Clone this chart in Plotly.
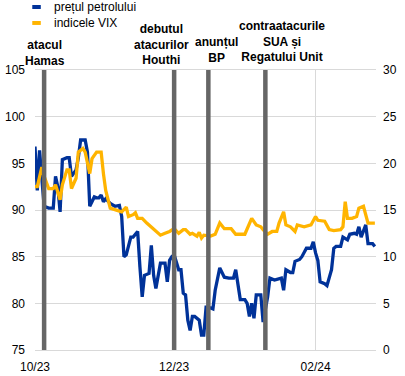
import plotly.graph_objects as go

# ---------------- data ----------------
oil_dates = [
    "2023-10-01", "2023-10-02", "2023-10-03", "2023-10-04", "2023-10-05", "2023-10-07",
    "2023-10-09", "2023-10-10", "2023-10-11", "2023-10-12", "2023-10-13", "2023-10-15",
    "2023-10-16", "2023-10-17", "2023-10-19", "2023-10-20", "2023-10-21", "2023-10-23",
    "2023-10-24", "2023-10-25", "2023-10-27", "2023-10-28", "2023-10-29", "2023-10-30",
    "2023-10-31", "2023-11-01", "2023-11-03", "2023-11-05", "2023-11-07", "2023-11-08",
    "2023-11-09", "2023-11-10", "2023-11-12", "2023-11-13", "2023-11-15", "2023-11-16",
    "2023-11-17", "2023-11-18", "2023-11-20", "2023-11-21", "2023-11-22", "2023-11-23",
    "2023-11-25", "2023-11-27", "2023-11-28", "2023-11-29", "2023-11-30", "2023-12-01",
    "2023-12-03", "2023-12-04", "2023-12-05", "2023-12-06", "2023-12-07", "2023-12-08",
    "2023-12-09", "2023-12-10", "2023-12-12", "2023-12-13", "2023-12-14", "2023-12-15",
    "2023-12-16", "2023-12-18", "2023-12-19", "2023-12-21", "2023-12-23", "2023-12-25",
    "2023-12-27", "2023-12-28", "2023-12-30", "2024-01-01", "2024-01-02", "2024-01-03",
    "2024-01-04", "2024-01-05", "2024-01-06", "2024-01-08", "2024-01-09", "2024-01-11",
    "2024-01-12", "2024-01-14", "2024-01-17", "2024-01-18", "2024-01-19", "2024-01-21",
    "2024-01-22", "2024-01-23", "2024-01-25", "2024-01-26", "2024-01-28", "2024-01-30",
    "2024-01-31", "2024-02-01", "2024-02-02", "2024-02-03", "2024-02-05", "2024-02-06",
    "2024-02-07", "2024-02-08", "2024-02-09", "2024-02-10", "2024-02-12", "2024-02-13",
    "2024-02-15", "2024-02-16", "2024-02-18", "2024-02-19", "2024-02-20", "2024-02-21",
    "2024-02-23", "2024-02-24", "2024-02-26", "2024-02-27",
]
oil_price = [
    96.8, 92.1, 96.4, 93.0, 90.4, 90.2,
    90.2, 93.6, 92.5, 89.8, 95.4, 95.6,
    95.6, 93.6, 94.3, 95.6, 97.5, 97.5,
    96.2, 90.4, 91.4, 91.3, 91.3, 91.6,
    90.9, 91.2, 90.7, 90.4, 90.5, 89.3,
    85.0, 85.2, 87.1, 87.1, 87.7, 83.9,
    80.7, 83.0, 83.2, 86.2, 83.0, 81.6,
    84.3, 84.3, 82.3, 84.6, 85.0, 85.2,
    83.6, 83.6, 81.1, 80.9, 78.2, 77.1,
    78.6, 78.6, 78.2, 76.6, 76.6, 79.6,
    79.6, 79.4, 81.4, 83.8, 82.8, 82.7,
    82.7, 83.6, 80.4, 80.4, 80.0, 78.6,
    80.0, 78.4, 80.9, 80.9, 78.0, 80.7,
    82.7, 82.5, 82.7, 81.4, 83.6, 83.3,
    83.3, 84.5, 84.7, 85.0, 85.9, 85.9,
    86.6, 85.4, 84.6, 82.3, 82.1, 81.9,
    82.8, 83.6, 85.9, 86.1, 86.1, 87.1,
    86.8, 87.4, 87.5, 87.4, 88.2, 87.1,
    88.4, 86.4, 86.4, 86.1,
]

vix_dates = [
    "2023-10-01", "2023-10-02", "2023-10-04", "2023-10-05", "2023-10-07", "2023-10-09",
    "2023-10-10", "2023-10-12", "2023-10-13", "2023-10-15", "2023-10-16", "2023-10-17",
    "2023-10-19", "2023-10-20", "2023-10-22", "2023-10-23", "2023-10-25", "2023-10-26",
    "2023-10-28", "2023-10-30", "2023-10-31", "2023-11-01", "2023-11-03", "2023-11-06",
    "2023-11-08", "2023-11-10", "2023-11-11", "2023-11-13", "2023-11-14", "2023-11-15",
    "2023-11-17", "2023-11-19", "2023-11-21", "2023-11-23", "2023-11-25", "2023-11-27",
    "2023-11-29", "2023-12-01", "2023-12-03", "2023-12-05", "2023-12-06", "2023-12-08",
    "2023-12-09", "2023-12-11", "2023-12-12", "2023-12-13", "2023-12-14", "2023-12-17",
    "2023-12-19", "2023-12-21", "2023-12-23", "2023-12-26", "2023-12-28", "2024-01-01",
    "2024-01-03", "2024-01-04", "2024-01-06", "2024-01-08", "2024-01-09", "2024-01-11",
    "2024-01-13", "2024-01-15", "2024-01-16", "2024-01-18", "2024-01-19", "2024-01-21",
    "2024-01-23", "2024-01-24", "2024-01-27", "2024-01-30", "2024-02-01", "2024-02-02",
    "2024-02-05", "2024-02-07", "2024-02-09", "2024-02-12", "2024-02-13", "2024-02-14",
    "2024-02-15", "2024-02-17", "2024-02-19", "2024-02-20", "2024-02-22", "2024-02-23",
    "2024-02-24", "2024-02-26", "2024-02-27",
]
vix_index = [
    17.5, 17.5, 19.6, 18.6, 17.3, 17.3,
    17.7, 16.1, 17.7, 19.3, 19.3, 17.3,
    18.4, 21.2, 21.6, 21.2, 18.9, 20.5,
    21.2, 21.2, 18.9, 17.1, 15.2, 15.0,
    14.8, 15.3, 14.3, 14.5, 14.7, 14.1,
    14.1, 13.6, 13.2, 12.7, 12.3, 12.5,
    12.7, 13.0, 12.5, 12.9, 12.9, 12.4,
    12.5, 12.2, 12.6, 12.0, 12.3, 12.2,
    12.4, 13.6, 13.0, 13.0, 12.4, 12.4,
    13.4, 14.1, 13.4, 13.2, 12.9, 12.4,
    12.7, 12.7, 13.6, 14.8, 13.4, 13.2,
    12.7, 13.4, 13.2, 13.4, 14.3, 13.9,
    13.8, 12.9, 12.8, 12.9, 13.2, 15.9,
    14.1, 14.1, 14.3, 15.2, 15.4, 14.3,
    13.6, 13.6, 13.6,
]

event_dates = ["2023-10-05", "2023-12-01", "2023-12-16", "2024-01-10"]
event_labels = [
    "atacul<br>Hamas",
    "debutul<br>atacurilor<br>Houthi",
    "anunțul<br>BP",
    "contraatacurile<br>SUA și<br>Regatului Unit",
]

tick_vals = ["2023-10-01", "2023-12-01", "2024-02-01"]
tick_text = ["10/23", "12/23", "02/24"]

series_names = ["prețul petrolului", "indicele VIX"]

# ---------------- style ----------------
BLUE = "#003299"
ORANGE = "#FFB400"
GRID = "#d9d9d9"
EVENT = "#666666"
FONT = "Arial, Liberation Sans, sans-serif"

fig = go.Figure()
fig.add_trace(go.Scatter(x=oil_dates, y=oil_price, mode="lines", name=series_names[0],
                         line=dict(color=BLUE, width=3.3), yaxis="y", showlegend=False))
fig.add_trace(go.Scatter(x=vix_dates, y=vix_index, mode="lines", name=series_names[1],
                         line=dict(color=ORANGE, width=3.3), yaxis="y2", showlegend=False))

shapes = []
for d in event_dates:
    shapes.append(dict(type="line", xref="x", yref="paper", x0=d, x1=d, y0=0, y1=1,
                       line=dict(color=EVENT, width=4.5), layer="above"))

# manual legend (small rectangles + text)
legend_rows_y = [1.225, 1.168]
for yv, col in zip(legend_rows_y, [BLUE, ORANGE]):
    shapes.append(dict(type="rect", xref="paper", yref="paper", x0=-0.008, x1=0.017,
                       y0=yv - 0.0071, y1=yv + 0.0071, fillcolor=col, line=dict(width=0)))

annotations = []
for name, yv in zip(series_names, legend_rows_y):
    annotations.append(dict(text=name, xref="paper", yref="paper", x=0.0499, y=yv,
                            xanchor="left", yanchor="middle", showarrow=False,
                            font=dict(family=FONT, size=12, color="#000000")))

label_pos = [(0.0293, 1.0618), (0.3724, 1.0893), (0.5308, 1.0732), (0.7229, 1.1007)]
for lab, (xp, yp) in zip(event_labels, label_pos):
    annotations.append(dict(text="<b>" + lab + "</b>", xref="paper", yref="paper", x=xp, y=yp,
                            xanchor="center", yanchor="middle", align="center", showarrow=False,
                            font=dict(family=FONT, size=12, color="#000000")))

fig.update_layout(
    width=405, height=376,
    margin=dict(l=35, r=29, t=70, b=26, pad=0, autoexpand=False),
    paper_bgcolor="white", plot_bgcolor="white",
    font=dict(family=FONT, size=12, color="#000000"),
    shapes=shapes, annotations=annotations,
    xaxis=dict(type="date", range=["2023-10-01", "2024-02-27 12:00"],
               tickmode="array", tickvals=tick_vals, ticktext=tick_text,
               showgrid=True, gridcolor=GRID, gridwidth=1,
               showline=True, linecolor=GRID, linewidth=1, mirror=True,
               ticks="", tickfont=dict(size=12), zeroline=False,
               ticklabelstandoff=6, automargin=False),
    yaxis=dict(range=[75, 105], dtick=5, tick0=75, showgrid=True, gridcolor=GRID,
               gridwidth=1, zeroline=False, ticks="", showline=False,
               tickfont=dict(size=12), ticklabelstandoff=9, automargin=False),
    yaxis2=dict(range=[0, 30], dtick=5, tick0=0, overlaying="y", side="right",
                showgrid=False, zeroline=False, ticks="", showline=False,
                tickfont=dict(size=12), ticklabelstandoff=6, automargin=False),
)

fig.write_html("out.html", config={"displayModeBar": False},
               post_script="document.body.style.margin='0';document.body.style.padding='0';")
